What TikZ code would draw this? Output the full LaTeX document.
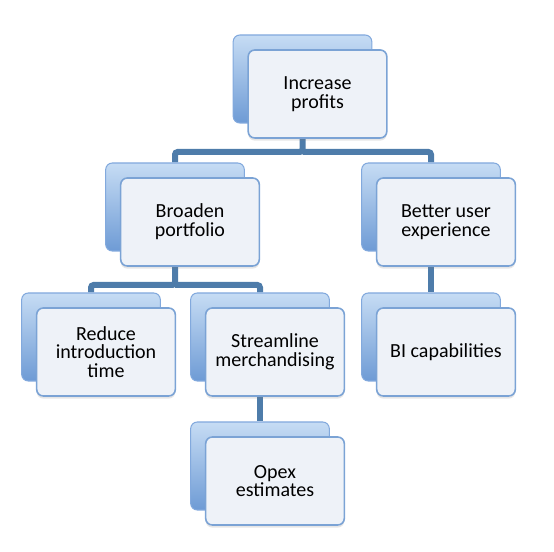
\documentclass[tikz,border=0pt]{standalone}
\usepackage{fontspec}
\setmainfont{Carlito}
\usetikzlibrary{positioning,backgrounds,shadows}

\definecolor{backtop}{HTML}{C6DCF4}
\definecolor{backmid}{HTML}{94B9E6}
\definecolor{backbot}{HTML}{6E9BD5}
\definecolor{backedge}{HTML}{82A9DD}
\definecolor{cardfill}{HTML}{EEF2F8}
\definecolor{cardedge}{HTML}{7BA3D5}
\definecolor{linkblue}{HTML}{4E7CAA}

\tikzset{
  backcard/.style={rounded corners=5pt, top color=backtop, middle color=backmid,
    bottom color=backbot, draw=backedge, line width=0.8pt,
    minimum width=104pt, minimum height=66pt},
  card/.style={rounded corners=5pt, fill=cardfill, draw=cardedge, line width=1.2pt,
    minimum width=104pt, minimum height=66pt, align=center,
    font=\fontsize{15}{14}\selectfont,
    drop shadow={opacity=0.2, shadow xshift=0pt, shadow yshift=-2pt},
    xshift=11.25pt, yshift=-11.25pt},
  link/.style={draw=linkblue, line width=4.5pt, rounded corners=2pt}
}

\begin{document}
\begin{tikzpicture}[x=0.75pt,y=-0.75pt]
    \useasboundingbox (0,0) rectangle (554,552);

    % back cards
    \node[backcard] at (302.5,79) (inc-b) {};
    \node[backcard] at (175,207) (broad-b) {};
    \node[backcard] at (431,207) (better-b) {};
    \node[backcard] at (91,337) (reduce-b) {};
    \node[backcard] at (260,337) (stream-b) {};
    \node[backcard] at (431,337) (bi-b) {};
    \node[backcard] at (260,466) (opex-b) {};

    % front cards
    \node[card] at (inc-b) (inc) {Increase\\profits};
    \node[card] at (broad-b) (broad) {Broaden\\portfolio};
    \node[card] at (better-b) (better) {Better user\\experience};
    \node[card] at (reduce-b) (reduce) {Reduce\\introduction\\time};
    \node[card] at (stream-b) (stream) {Streamline\\merchandising};
    \node[card] at (bi-b) (bi) {BI capabilities};
    \node[card] at (opex-b) (opex) {Opex\\estimates};

    \coordinate (j1) at (302.5,152);
    \coordinate (j2) at (175,285);

    \begin{scope}[on background layer]
        \draw[link] (inc-b) -- (j1) -| (broad-b);
        \draw[link] (j1) -| (better-b);
        \draw[link] (broad-b) -- (j2) -| (reduce-b);
        \draw[link] (j2) -| (stream-b);
        \draw[link] (better-b) -- (bi-b);
        \draw[link] (stream-b) -- (opex-b);
    \end{scope}
\end{tikzpicture}
\end{document}
